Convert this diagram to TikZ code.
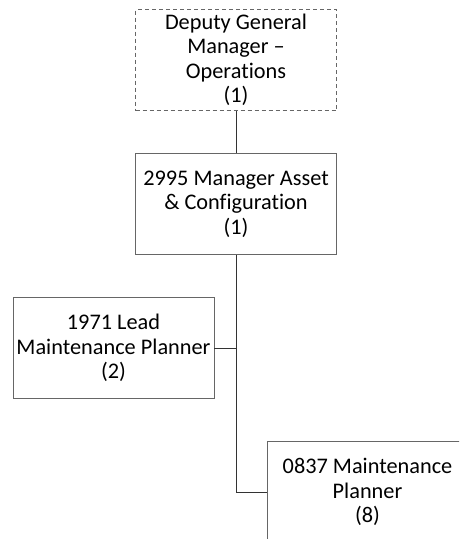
\documentclass[tikz,border=0pt]{standalone}
\usepackage{fontspec}
\setmainfont{Carlito}[Ligatures={NoCommon}]
\begin{document}
\begin{tikzpicture}[x=1pt,y=-1pt,
  box/.style={draw=black!60, line width=0.9pt, minimum width=201pt, minimum height=101pt,
    inner sep=0pt, align=center, font=\fontsize{22.3}{24.5}\selectfont, text=black},
  dbox/.style={box, dash pattern=on 4pt off 3pt},
  link/.style={draw=black!80, line width=0.9pt}]
\clip (0,0) rectangle (459,539);
\node[dbox] (dgm) at (236,60) {Deputy General\\Manager –\\Operations\\(1)};
\node[box] (mgr) at (236,204) {2995 Manager Asset\\\& Configuration\\(1)};
\node[box] (lead) at (113.5,348) {1971 Lead\\Maintenance Planner\\(2)};
\node[box] (plan) at (367.5,492) {0837 Maintenance\\Planner\\(8)};
\draw[link] (dgm.south) -- (mgr.north);
\draw[link] (mgr.south) |- (plan.west);
\draw[link] (lead.east) -- (lead.east -| mgr.south);
\end{tikzpicture}
\end{document}
